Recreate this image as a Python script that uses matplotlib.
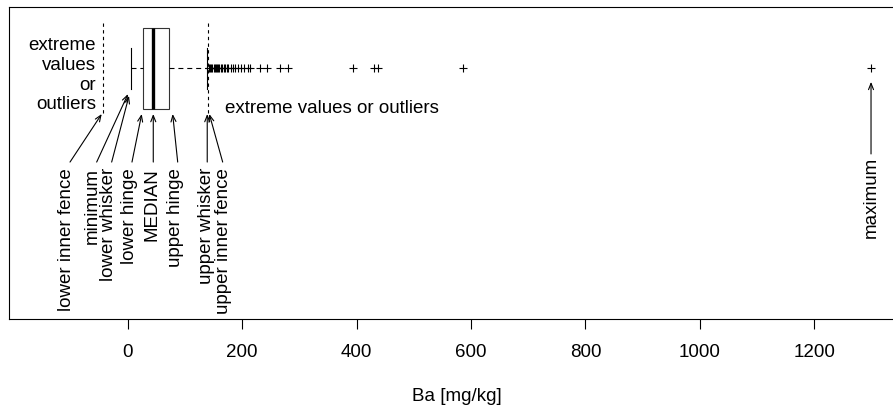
import numpy as np
import matplotlib
matplotlib.use("Agg")
import matplotlib.pyplot as plt

plt.rcParams['font.family'] = ['Liberation Sans', 'DejaVu Sans']

# Ba [mg/kg] summary statistics
ba_lower_fence = -43.0
ba_min = 5.0
ba_q1 = 26.0
ba_median = 44.0
ba_q3 = 72.0
ba_upper_whisker = 138.0
ba_upper_fence = 141.0
ba_max = 1299.0

# values beyond the upper inner fence
ba_outliers = [142, 144, 146, 148, 150, 152, 154, 156, 158, 160, 163, 165,
               168, 170, 173, 176, 180, 184, 188, 193, 198, 204, 210, 214,
               231, 243, 266, 280, 394, 430, 437, 586, ba_max]

x_ticks = [0, 200, 400, 600, 800, 1000, 1200]

FS = 13.5
LW = 0.8

fig = plt.figure(figsize=(8.93, 4.06), dpi=100)
ax = fig.add_axes([0.0097, 0.2118, 1.0035, 0.7685])
ax.set_xlim(-208, 1358)
ax.set_ylim(0, 1)

yc = 0.803      # box centre
bh = 0.259      # box height
cap = bh / 2

# box + median
ax.add_patch(plt.Rectangle((ba_q1, yc - bh / 2), ba_q3 - ba_q1, bh,
                           fill=False, lw=LW, ec='#333333'))
ax.plot([ba_median, ba_median], [yc - bh / 2, yc + bh / 2], color='black', lw=2.4,
        solid_capstyle='butt')

# whiskers and staples
ax.plot([ba_min, ba_q1], [yc, yc], color='black', lw=LW, dashes=(4.5, 3.5))
ax.plot([ba_q3, ba_upper_whisker], [yc, yc], color='black', lw=LW, dashes=(4.5, 3.5))
for v in (ba_min, ba_upper_whisker):
    ax.plot([v, v], [yc - cap / 2, yc + cap / 2], color='black', lw=LW)

# inner fences
for v in (ba_lower_fence, ba_upper_fence):
    ax.plot([v, v], [0.66, 0.95], color='black', lw=LW, dashes=(3, 3))

# outliers
ax.plot(ba_outliers, np.full(len(ba_outliers), yc), ls='none', marker='+',
        ms=6, mew=LW, color='black')

# labels with arrows
y_txt = 0.487
y_tail = 0.503
labels = [
    ('lower inner fence', -106.6, -100.8, -45.4, 0.657),
    ('minimum', -61.5, -54.2, 0.5, 0.721),
    ('lower whisker', -33.5, -28.0, 2.3, 0.715),
    ('lower hinge', 4.0, 7.5, 24.5, 0.657),
    ('MEDIAN', 42.0, 44.7, 44.7, 0.657),
    ('upper hinge', 82.7, 87.4, 78.6, 0.657),
    ('upper whisker', 138.0, 139.0, 139.0, 0.657),
    ('upper inner fence', 168.3, 166.0, 142.6, 0.657),
]
arrow_kw = dict(arrowstyle='->,head_length=0.45,head_width=0.18', lw=LW, color='black',
                shrinkA=0, shrinkB=0)
for text, tx, ax0, ax1, ty in labels:
    ax.text(tx, y_txt, text, rotation=90, ha='center', va='top', fontsize=FS)
    ax.annotate('', xy=(ax1, ty), xytext=(ax0, y_tail), arrowprops=arrow_kw)

ax.text(ba_max, 0.523, 'maximum', rotation=90, ha='center', va='top', fontsize=FS)
ax.annotate('', xy=(ba_max, 0.760), xytext=(ba_max, 0.529), arrowprops=arrow_kw)

ax.text(-55, 0.784, 'extreme\nvalues\nor\noutliers', ha='right', va='center',
        fontsize=FS, linespacing=1.2)
ax.text(170, 0.679, 'extreme values or outliers', ha='left', va='center', fontsize=FS)

ax.set_yticks([])
ax.set_xticks(x_ticks)
ax.tick_params(axis='x', length=7.5, width=LW, pad=10, labelsize=FS)
ax.set_xlabel('Ba [mg/kg]', fontsize=FS, labelpad=19)
for s in ax.spines.values():
    s.set_linewidth(LW)
ax.spines['right'].set_visible(False)

fig.savefig('out.png', dpi=100)
